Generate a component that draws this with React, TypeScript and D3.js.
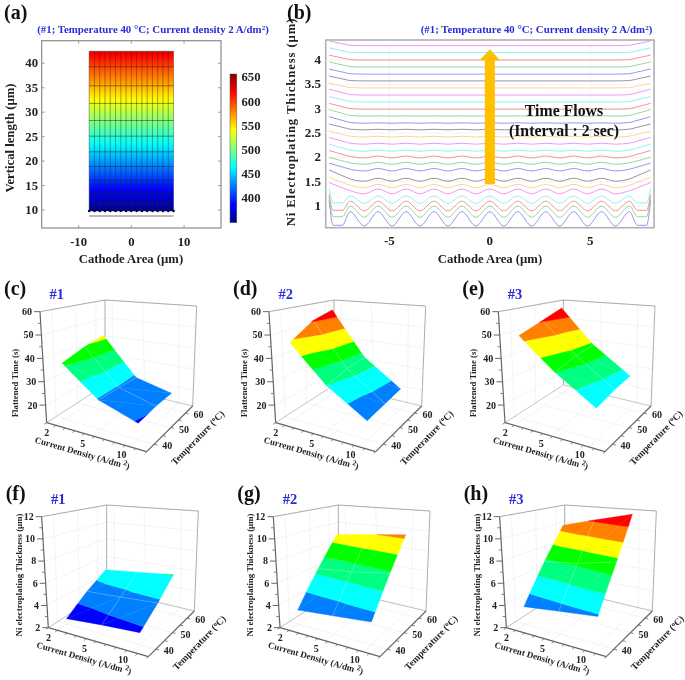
import React from "react";
import * as d3 from "d3";

const FONT = "'Liberation Serif', 'Times New Roman', serif";
const BLUE = "#2b2bd8";

// ---------- panel (a) data
const heatColumnEdges = [-8,-7,-6,-5,-4,-3,-2,-1,0,1,2,3,4,5,6,7,8];
const heatRowEdges = [9.8,11.2,13.5,16.1,18.9,21.9,25.1,28.3,31.8,35.4,39.3,42.45];
const heatRowTemps = [351,362,382,404,427,452,479,506,536,566,598,625];
const colorbarTicks = [400,450,500,550,600,650];
const heatXTicks = [-10,0,10];
const heatYTicks = [10,15,20,25,30,35,40];
const jetStops = [0,0.125,0.375,0.625,0.875,1];
const jetColors = ["#00008f","#0000ff","#00ffff","#ffff00","#ff0000","#800000"];

// ---------- panel (b) data (one row per time step, bottom to top)
const lineLevels = [0.736,0.883,1.0,1.13,1.3,1.41,1.54,1.745,1.877,2.007,2.137,2.28,2.425,2.57,2.705,2.85,2.99,3.137,3.28,3.425,3.57,3.71,3.856,4.0,4.15,4.295];
const lineRipple = [0.147,0.115,0.1,0.075,0.05,0.035,0.03,0.025,0.02,0.02,0.012,0.01,0.008,0.006,0.004,0.002,0,0,0,0,0,0,0,0,0,0];
const lineEdges = [1.12,1.19,1.24,1.36,1.48,1.59,1.74,1.88,2.0,2.14,2.27,2.41,2.54,2.685,2.835,2.98,3.11,3.25,3.4,3.52,3.67,3.815,3.96,4.1,4.25,4.39];
const lineColors = ["#8a8ae8","#8fd08f","#f08a8a","#7ff0f0","#f08af0","#f5d48a","#8a8a8a"];
const crestCentres = [-5.56,-4.17,-2.78,-1.39,0,1.39,2.78,4.17,5.56];
const valleyCentres = [-6.25,-4.865,-3.475,-2.085,-0.695,0.695,2.085,3.475,4.865,6.25];
const lowEdgeKnots = [6.95,7.35,7.8,8];
const lowEdgeRipple = [1,-0.9,-0.9,-0.9];
const lowEdgeShare = [0,0,0,1];
const highEdgeKnots = [6.95,7.2,7.6,8];
const highEdgeShare = [0.08,0.29,0.64,1];
const bXTicks = [-5,0,5];
const bYTicks = [1,1.5,2,2.5,3,3.5,4];
const bYLabels = ["1","1.5","2","2.5","3","3.5","4"];

// ---------- panels (c)-(h) data
const currents = [2,5,10];
const temps = [40,50,60];
const flatTime1 = [[37,24.5,19],[40.5,24.5,20],[42.5,24,20]];
const flatTime2 = [[46,30.5,20],[53,33,21],[56,34,22]];
const flatTime3 = [[49,36,25],[53,39,27],[57,40,28]];
const thick1 = [[2.5,2.8,3],[3.9,4.1,4.3],[5.1,5.5,5.9]];
const thick2 = [[3.3,3.6,3.9],[6.2,6.5,7],[9,9.4,9.8]];
const thick3 = [[3.6,4,4.35],[6.9,7.3,8],[10,10.9,11.8]];
const timeLevels = [19.5,25,30.5,36,41,47,52.5];
const thickLevels = [3.25,4.5,5.8,7.1,8.3,9.5,10.75];
const bandColors = ["#0000ff","#0080ff","#00ffff","#00ff80","#00ff00","#ffff00","#ff8000","#ff0000"];
const timeTicks = [20,30,40,50,60];
const thickTicks = [2,4,6,8,10,12];

type P = [number, number];
const Z = 1 / 3;
const cube: Record<string, P> = {
  A:[140,458],B:[440,545],C:[578,408],D:[315,345],
  At:[120,125],Bt:[449,170],Ct:[590,108],Dt:[315,90],
};

function homography(p0: P, p1: P, p2: P, p3: P) {
  const dx1=p1[0]-p2[0],dx2=p3[0]-p2[0],sx=p0[0]-p1[0]+p2[0]-p3[0];
  const dy1=p1[1]-p2[1],dy2=p3[1]-p2[1],sy=p0[1]-p1[1]+p2[1]-p3[1];
  const den=dx1*dy2-dx2*dy1;
  const g=(sx*dy2-dx2*sy)/den,h=(dx1*sy-sx*dy1)/den;
  const a=p1[0]-p0[0]+g*p1[0],b=p3[0]-p0[0]+h*p3[0],c=p0[0];
  const d=p1[1]-p0[1]+g*p1[1],e=p3[1]-p0[1]+h*p3[1],f=p0[1];
  return (u:number,v:number):P=>{
    const w=g*u+h*v+1;
    return [(a*u+b*v+c)/w,(d*u+e*v+f)/w];
  };
}
const floorH = homography(cube.A,cube.B,cube.C,cube.D);
const topH = homography(cube.At,cube.Bt,cube.Ct,cube.Dt);
const project3 = (u:number,v:number,w:number):P=>{
  const a=floorH(u,v),b=topH(u,v);
  return [(a[0]+(b[0]-a[0])*w)*Z,(a[1]+(b[1]-a[1])*w)*Z];
};

type V3 = [number,number,number];
function clip(poly:V3[],keep:(z:number)=>number):V3[]{
  const out:V3[]=[];
  poly.forEach((p,i)=>{
    const q=poly[(i+1)%poly.length];
    const a=keep(p[2]),b=keep(q[2]);
    if(a>=0) out.push(p);
    if((a>=0)!==(b>=0)){
      const t=a/(a-b);
      out.push([p[0]+(q[0]-p[0])*t,p[1]+(q[1]-p[1])*t,p[2]+(q[2]-p[2])*t]);
    }
  });
  return out;
}

function Text3D(props:any){
  return <text fontFamily={FONT} fontWeight="bold" fill="#222" {...props}/>;
}

function Surface({label,tag,ox,oy,dx,grid,levels,zTicks,zDomain,zTitle,zTitleX,zTitleY}:any){
  const uScale=d3.scalePoint<number>().domain(currents).range([0.1,0.85]);
  const vScale=d3.scalePoint<number>().domain(temps).range([0.14,0.82]);
  const wScale=d3.scaleLinear().domain(zDomain).range([0,1]);
  const proj=(c:number,t:number,z:number)=>project3(c,t,wScale(z));
  const line=d3.line();
  const poly=(pts:P[])=>line(pts)+"Z";
  const idx=[0,1,2];
  const tris:V3[][]=[];
  for(const i of [0,1]) for(const j of [0,1]){
    const pt=(ti:number,ci:number):V3=>[uScale(currents[ci])!,vScale(temps[ti])!,grid[ti][ci]];
    tris.push([pt(i,j),pt(i,j+1),pt(i+1,j+1)]);
    tris.push([pt(i,j),pt(i+1,j+1),pt(i+1,j)]);
  }
  const edges=[-1e9,...levels,1e9];
  const uTicksMinor=d3.range(0,1.0001,0.1);
  const vTicksMinor=d3.range(0.14,0.85,0.17);
  const grey="#dcdcdc";
  const axisCol="#666";
  const wall=(a:P,b:P,k:string)=><line key={k} x1={a[0]} y1={a[1]} x2={b[0]} y2={b[1]} stroke={grey} strokeWidth={0.6} strokeDasharray="1.2 1"/>;
  const seg=(a:P,b:P,k:string,w=1,col=axisCol)=><line key={k} x1={a[0]} y1={a[1]} x2={b[0]} y2={b[1]} stroke={col} strokeWidth={w}/>;
  const zMinor=d3.range(zTicks.length-1).map((i:number)=>(zTicks[i]+zTicks[i+1])/2);
  return <g transform={`translate(${ox+dx*Z},${oy})`}>
    {zTicks.map((z:number)=>{const w=wScale(z);return <g key={"w"+z}>
      {wall(project3(0,0,w),project3(0,1,w),"l")}
      {wall(project3(0,1,w),project3(1,1,w),"r")}
    </g>;})}
    {currents.map(c=>{const u=uScale(c)!;return <g key={"c"+c}>
      {wall(project3(u,0,0),project3(u,1,0),"f")}
      {wall(project3(u,1,0),project3(u,1,1),"b")}
    </g>;})}
    {temps.map(t=>{const v=vScale(t)!;return <g key={"t"+t}>
      {wall(project3(0,v,0),project3(1,v,0),"f")}
      {wall(project3(0,v,0),project3(0,v,1),"b")}
    </g>;})}
    {seg(project3(0,1,0),project3(0,1,1),"e1",0.8,"#999")}
    {seg(project3(1,1,0),project3(1,1,1),"e2",0.8,"#999")}
    {seg(project3(0,0,1),project3(0,1,1),"e3",0.8,"#999")}
    {seg(project3(0,1,1),project3(1,1,1),"e4",0.8,"#999")}
    {seg(project3(0,0,0),project3(0,1,0),"e5",0.7,"#aaa")}
    {seg(project3(0,1,0),project3(1,1,0),"e6",0.7,"#aaa")}
    {bandColors.map((col,k)=>{
      const lo=edges[k],hi=edges[k+1];
      return <g key={col} fill={col} stroke={col} strokeWidth={0.35}>
        {tris.map((tri,n)=>{
          let cl=clip(tri,(z)=>z-lo);
          if(cl.length) cl=clip(cl,(z)=>hi-z);
          if(cl.length<3) return null;
          return <path key={n} d={poly(cl.map(p=>proj(p[0],p[1],p[2])))}/>;
        })}
      </g>;
    })}
    <path d={line(idx.map(i=>proj(uScale(currents[1])!,vScale(temps[i])!,grid[i][1])) as P[])!} fill="none" stroke="#fff" strokeOpacity={0.35} strokeWidth={0.6}/>
    <path d={line(idx.map(i=>proj(uScale(currents[i])!,vScale(temps[1])!,grid[1][i])) as P[])!} fill="none" stroke="#fff" strokeOpacity={0.35} strokeWidth={0.6}/>
    {seg(project3(0,0,0),project3(0,0,1),"az",1.2)}
    {seg(project3(0,0,0),project3(1,0,0),"ac",1.2)}
    {seg(project3(1,0,0),project3(1,1,0),"at",1.2)}
    {zTicks.map((z:number)=>{const p=project3(0,0,wScale(z));return <g key={"zt"+z}>
      <line x1={p[0]-6} y1={p[1]} x2={p[0]} y2={p[1]} stroke={axisCol} strokeWidth={1}/>
      <Text3D x={p[0]-8} y={p[1]+3.4} fontSize={10} textAnchor="end">{z}</Text3D>
    </g>;})}
    {zMinor.map((z:number)=>{const p=project3(0,0,wScale(z));return <line key={"zm"+z} x1={p[0]-3} y1={p[1]} x2={p[0]} y2={p[1]} stroke={axisCol} strokeWidth={0.8}/>;})}
    {uTicksMinor.map((u:number)=>{const a=project3(u,0,0),b=project3(u,-0.035,0);return <line key={"um"+u} x1={a[0]} y1={a[1]} x2={b[0]} y2={b[1]} stroke={axisCol} strokeWidth={0.8}/>;})}
    {vTicksMinor.map((v:number)=>{const a=project3(1,v,0),b=project3(1.03,v,0);return <line key={"vm"+v} x1={a[0]} y1={a[1]} x2={b[0]} y2={b[1]} stroke={axisCol} strokeWidth={0.8}/>;})}
    {currents.map(c=>{const p=project3(uScale(c)!,0,0);return <Text3D key={c} x={p[0]-9} y={p[1]+11} fontSize={10} textAnchor="middle">{c}</Text3D>;})}
    {temps.map(t=>{const p=project3(1,vScale(t)!,0);return <Text3D key={t} x={p[0]+13} y={p[1]+5} fontSize={10} textAnchor="middle">{t}</Text3D>;})}
    <Text3D transform={`translate(${81.5},${186}) rotate(16)`} fontSize={9} textAnchor="middle">Current Density (A/dm <tspan dy={-3} fontSize={7.5}>2</tspan><tspan dy={3}>)</tspan></Text3D>
    <Text3D transform={`translate(${200},${170}) rotate(-46)`} fontSize={9.5} textAnchor="middle">Temperature (<tspan dy={-3} fontSize={6.5}>o</tspan><tspan dy={3}>C)</tspan></Text3D>
    <Text3D transform={`translate(${zTitleX},${zTitleY}) rotate(-90)`} fontSize={8.8} textAnchor="middle">{zTitle}</Text3D>
    <text x={170*Z} y={29} fontFamily={FONT} fontWeight="bold" fontSize={14.5} fill={BLUE} textAnchor="middle">{tag}</text>
    <text x={12*Z} y={25} fontFamily={FONT} fontWeight="bold" fontSize={20} fill="#111">{label}</text>
  </g>;
}

function PanelA(){
  const x=d3.scaleLinear().domain([-17,17]).range([41.7,221]);
  const y=d3.scaleLinear().domain([10,40]).range([210,63.3]);
  const field=d3.scaleLinear<number>().domain(heatRowEdges).range(heatRowTemps);
  const barT=d3.scaleLinear().domain([350,657]).range([0,1]);
  const jet=d3.scaleLinear<string>().domain(jetStops).range(jetColors);
  const tempColor=(t:number)=>jet(barT(t));
  const yTop=y(heatRowEdges[heatRowEdges.length-1]),yBot=y(heatRowEdges[0]);
  const gradY=d3.range(0,1.0001,0.025).map(f=>heatRowEdges[0]+f*(heatRowEdges[heatRowEdges.length-1]-heatRowEdges[0]));
  const cb=d3.scaleLinear().domain([350,657]).range([222.7,74]);
  const L=41.7,R=221,T=40.7,B=228;
  const frame="#8a8a8a";
  return <g>
    <defs>
      <linearGradient id="heatGrad" gradientUnits="userSpaceOnUse" x1={0} x2={0} y1={yBot} y2={yTop}>
        {gradY.map((v,i)=><stop key={i} offset={i/(gradY.length-1)} stopColor={tempColor(field(v))}/>)}
      </linearGradient>
      <linearGradient id="barGrad" x1="0" x2="0" y1="1" y2="0">
        {jetStops.map((s,i)=><stop key={i} offset={s} stopColor={jetColors[i]}/>)}
      </linearGradient>
    </defs>
    <rect x={L} y={T} width={R-L} height={B-T} fill="#fff" stroke={frame} strokeWidth={1.2}/>
    {heatXTicks.map(t=><g key={t} stroke={frame} strokeWidth={0.8}>
      <line x1={x(t)} x2={x(t)} y1={B} y2={B-3}/><line x1={x(t)} x2={x(t)} y1={T} y2={T+3}/>
    </g>)}
    {heatYTicks.map(t=><g key={t} stroke={frame} strokeWidth={0.8}>
      <line x1={L} x2={L+3} y1={y(t)} y2={y(t)}/><line x1={R} x2={R-3} y1={y(t)} y2={y(t)}/>
    </g>)}
    <rect x={x(-8)} y={yTop} width={x(8)-x(-8)} height={yBot-yTop} fill="url(#heatGrad)"/>
    {heatColumnEdges.map(c=><line key={c} x1={x(c)} x2={x(c)} y1={yTop} y2={yBot} stroke="#222" strokeOpacity={0.65} strokeWidth={0.6}/>)}
    {heatRowEdges.map(r=><line key={r} x1={x(-8)} x2={x(8)} y1={y(r)} y2={y(r)} stroke="#222" strokeOpacity={0.8} strokeWidth={0.6}/>)}
    {heatColumnEdges.map(c=><circle key={c} cx={x(c)} cy={yBot} r={1.2} fill="#000030"/>)}
    <line x1={x(-8)} x2={x(8)} y1={y(8.77)} y2={y(8.77)} stroke="#667" strokeWidth={0.9}/>
    {heatXTicks.map(t=><text key={t} x={x(t)} y={245.5} fontFamily={FONT} fontWeight="bold" fontSize={12.7} textAnchor="middle" fill="#222">{t}</text>)}
    {heatYTicks.map(t=><text key={t} x={38} y={y(t)+4} fontFamily={FONT} fontWeight="bold" fontSize={12.7} textAnchor="end" fill="#222">{t}</text>)}
    <text x={131} y={263} fontFamily={FONT} fontWeight="bold" fontSize={12.7} textAnchor="middle" fill="#222">Cathode Area (µm)</text>
    <text transform="translate(14,138) rotate(-90)" fontFamily={FONT} fontWeight="bold" fontSize={12.7} textAnchor="middle" fill="#222">Vertical length (µm)</text>
    <rect x={230} y={cb(657)} width={6.8} height={cb(350)-cb(657)} fill="url(#barGrad)" stroke="#555" strokeWidth={0.5}/>
    {colorbarTicks.map(t=><text key={t} x={241.5} y={cb(t)+4} fontFamily={FONT} fontWeight="bold" fontSize={12.7} fill="#222">{t}</text>)}
    <Heading x={153} />
    <text x={4} y={19} fontFamily={FONT} fontWeight="bold" fontSize={20} fill="#111">(a)</text>
  </g>;
}

function Heading({x}:{x:number}){
  return <text x={x} y={33} fontFamily={FONT} fontWeight="bold" fontSize={10.8} fill={BLUE} textAnchor="middle">(#1; Temperature 40 °C; Current density 2 A/dm<tspan dy={-3} fontSize={7}>2</tspan><tspan dy={3}>)</tspan></text>;
}

function PanelB(){
  const x=d3.scaleLinear().domain([-8.17,8.17]).range([325.7,654]);
  const y=d3.scaleLinear().domain([1,4]).range([206,60]);
  const L=325.7,R=654,T=40,B=227.7;
  const frame="#b0b0b0";
  const curve=d3.line<[number,number]>().x(d=>x(d[0])).y(d=>y(d[1])).curve(d3.curveMonotoneX);
  const paths=lineLevels.map((lv,i)=>{
    const amp=lineRipple[i];
    const rise=lineEdges[i]-lv;
    const low=amp>=0.075;
    const centre=[...crestCentres.map(c=>[c,lv+amp] as [number,number]),...valleyCentres.map(c=>[c,lv-amp] as [number,number])].sort((a,b)=>a[0]-b[0]);
    const side:[number,number][]=low
      ? lowEdgeKnots.map((k,j)=>[k,lv+amp*lowEdgeRipple[j]+(lineEdges[i]-lv+amp*0.9)*lowEdgeShare[j]])
      : highEdgeKnots.map((k,j)=>[k,lv+rise*highEdgeShare[j]]);
    const right=side;
    const left=side.map(d=>[-d[0],d[1]] as [number,number]).reverse();
    const pts=[...left,...centre,...right];
    return {d:curve(pts)!,col:lineColors[i%lineColors.length]};
  });
  return <g>
    <rect x={L} y={T} width={R-L} height={B-T} fill="#fff" stroke={frame} strokeWidth={1.6}/>
    {bXTicks.map(t=><line key={t} x1={x(t)} x2={x(t)} y1={T} y2={B} stroke="#ececec" strokeWidth={0.6}/>)}
    {bYTicks.map(t=><line key={t} x1={L} x2={R} y1={y(t)} y2={y(t)} stroke="#ececec" strokeWidth={0.6}/>)}
    {paths.map((p,i)=><path key={i} d={p.d} fill="none" stroke={p.col} strokeWidth={0.9}/>)}
    <path d={`M${x(-0.25)},${y(1.45)}V${y(4.0)}H${x(-0.5)}L${x(0)},${y(4.22)}L${x(0.5)},${y(4.0)}H${x(0.25)}V${y(1.45)}Z`} fill="#ffc000"/>
    {bXTicks.map(t=><text key={t} x={x(t)} y={245} fontFamily={FONT} fontWeight="bold" fontSize={13} textAnchor="middle" fill="#222">{t}</text>)}
    {bYTicks.map((t,i)=><text key={t} x={321} y={y(t)+4} fontFamily={FONT} fontWeight="bold" fontSize={13} textAnchor="end" fill="#222">{bYLabels[i]}</text>)}
    <text x={490} y={263} fontFamily={FONT} fontWeight="bold" fontSize={12.7} textAnchor="middle" fill="#222">Cathode Area (µm)</text>
    <text transform="translate(295,122) rotate(-90)" fontFamily={FONT} fontWeight="bold" fontSize={12.7} textAnchor="middle" fill="#222" letterSpacing={0.9}>Ni Electroplating Thickness (µm)</text>
    <text x={564} y={116} fontFamily={FONT} fontWeight="bold" fontSize={15.8} textAnchor="middle" fill="#111">Time Flows</text>
    <text x={564} y={136} fontFamily={FONT} fontWeight="bold" fontSize={15.8} textAnchor="middle" fill="#111">(Interval : 2 sec)</text>
    <Heading x={536.5}/>
    <text x={287} y={19} fontFamily={FONT} fontWeight="bold" fontSize={20} fill="#111">(b)</text>
  </g>;
}

const TIME="Flattened Time (s)";
const THICK="Ni electroplating  Thickness (µm)";

export default function App(){
  const common={zTicks:timeTicks,zDomain:[12.5,60],levels:timeLevels,zTitle:TIME,zTitleX:18,zTitleY:113};
  const lower={zTicks:thickTicks,zDomain:[2,12],levels:thickLevels,zTitle:THICK,zTitleX:20,zTitleY:100};
  return <svg width={685} height={680} viewBox="0 0 685 680" style={{position:"absolute",left:0,top:0,background:"#fff",filter:"blur(0.35px)"}}>
    <PanelA/>
    <PanelB/>
    <Surface label="(c)" tag="#1" ox={0} oy={270} dx={0} grid={flatTime1} {...common}/>
    <Surface label="(d)" tag="#2" ox={230} oy={270} dx={-3} grid={flatTime2} {...common}/>
    <Surface label="(e)" tag="#3" ox={455} oy={270} dx={10} grid={flatTime3} {...common}/>
    <Surface label="(f)" tag="#1" ox={0} oy={475} dx={5} grid={thick1} {...lower}/>
    <Surface label="(g)" tag="#2" ox={230} oy={475} dx={10} grid={thick2} {...lower}/>
    <Surface label="(h)" tag="#3" ox={455} oy={475} dx={14} grid={thick3} {...lower}/>
  </svg>;
}
